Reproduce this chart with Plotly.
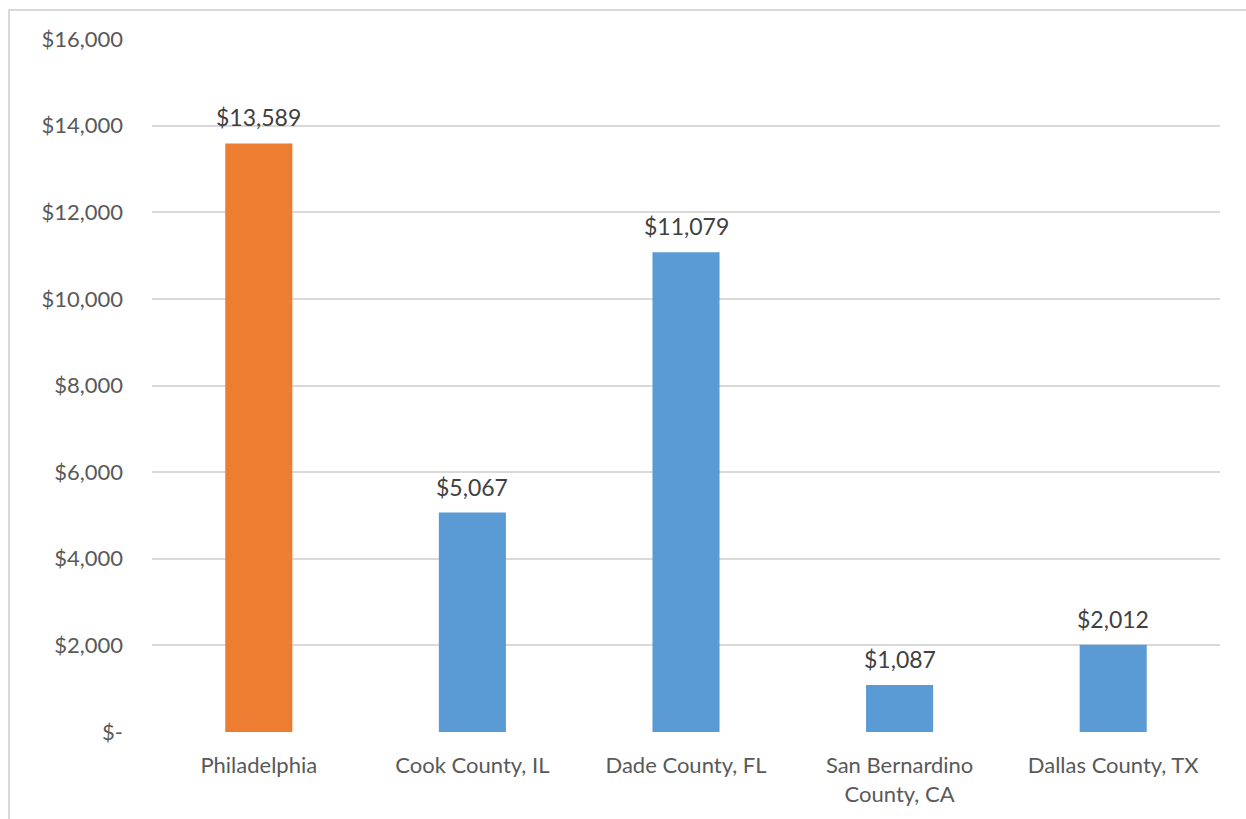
import plotly.graph_objects as go

# Per-capita values by jurisdiction
categories = ["Philadelphia", "Cook County, IL", "Dade County, FL",
              "San Bernardino<br>County, CA", "Dallas County, TX"]
values = [13589, 5067, 11079, 1087, 2012]
bar_colors = ["#ED7D31", "#5B9BD5", "#5B9BD5", "#5B9BD5", "#5B9BD5"]

tick_values = [0, 2000, 4000, 6000, 8000, 10000, 12000, 14000, 16000]
tick_labels = ["$-", "$2,000", "$4,000", "$6,000", "$8,000",
               "$10,000", "$12,000", "$14,000", "$16,000"]

W, H = 1246, 819
L, R, T, B = 152, 26, 39, 85

fig = go.Figure(go.Bar(
    x=categories,
    y=values,
    marker=dict(color=bar_colors, line=dict(width=0)),
    cliponaxis=False,
))

# Value labels above each bar
for c, v in zip(categories, values):
    fig.add_annotation(
        x=c, y=v, text=f"${v:,}", showarrow=False,
        yanchor="bottom", yshift=10,
        font=dict(size=23, color="#404040"),
    )

pw, ph = W - L - R, H - T - B
fig.update_layout(
    width=W, height=H,
    margin=dict(l=L, r=R, t=T, b=B, pad=0),
    paper_bgcolor="white",
    plot_bgcolor="white",
    font=dict(family="Lato, 'Open Sans', sans-serif", color="#595959", size=22),
    bargap=0.686,
    showlegend=False,
    xaxis=dict(
        showgrid=False, zeroline=False, showline=False,
        ticks="", ticklabelstandoff=18,
        tickfont=dict(size=22, color="#595959"),
    ),
    yaxis=dict(
        range=[0, 16000],
        tickvals=tick_values, ticktext=tick_labels,
        showgrid=True, gridcolor="#D9D9D9", gridwidth=2,
        zeroline=False, showline=False, ticks="",
        ticklabelstandoff=28,
        tickfont=dict(size=22, color="#595959"),
    ),
    shapes=[dict(
        type="rect", xref="paper", yref="paper",
        x0=(9 - L) / pw, x1=(W + 20 - L) / pw,
        y0=-(H + 20 - T - ph) / ph, y1=(T + ph - 10) / ph,
        line=dict(color="#D9D9D9", width=2), fillcolor="rgba(0,0,0,0)",
        layer="below",
    )],
)

fig.write_html("out.html")
